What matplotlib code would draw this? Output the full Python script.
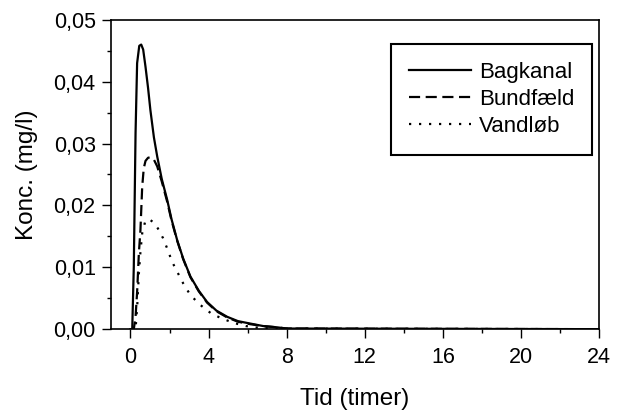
import matplotlib
matplotlib.use("Agg")
import matplotlib.pyplot as plt
from matplotlib.ticker import MultipleLocator, FuncFormatter

plt.rcParams['font.family'] = ['Liberation Sans', 'DejaVu Sans']

# values (tid in timer, konc. in mg/l)
t_bag = [0.0, 0.09, 0.17, 0.26, 0.34, 0.45, 0.55, 0.65, 0.77, 0.9, 1.02, 1.2, 1.37, 1.6,
         1.88, 2.1, 2.39, 2.7, 3.07, 3.5, 3.92, 4.4, 4.95, 5.5, 6.14, 6.8, 7.5, 8.0, 24.0]
c_bag = [0.0, 0.0, 0.0101, 0.0317, 0.043, 0.0458, 0.046, 0.0452, 0.0424, 0.039, 0.0354, 0.031,
         0.0279, 0.0243, 0.0209, 0.0178, 0.0144, 0.0114, 0.0085, 0.0062, 0.0044, 0.003, 0.002,
         0.0013, 0.0009, 0.0005, 0.0003, 0.0001, 0.0]

t_bund = [0.0, 0.17, 0.26, 0.34, 0.43, 0.51, 0.6, 0.68, 0.77, 0.9, 1.02, 1.2, 1.37, 1.6, 1.88,
          2.1, 2.39, 2.7, 3.07, 3.5, 3.92, 4.4, 4.95, 5.5, 6.14, 6.8, 7.5, 8.0, 24.0]
c_bund = [0.0, 0.0, 0.002, 0.006, 0.0123, 0.016, 0.023, 0.026, 0.0272, 0.0277, 0.0278, 0.0274,
          0.0263, 0.0239, 0.0206, 0.0176, 0.0143, 0.0113, 0.0084, 0.0061, 0.0043, 0.0029, 0.0019,
          0.0012, 0.0008, 0.0005, 0.0003, 0.0001, 0.0]

t_vand = [0.0, 0.26, 0.35, 0.43, 0.51, 0.6, 0.77, 0.99, 1.2, 1.4, 1.67, 1.91, 2.13, 2.39, 2.7,
          3.07, 3.58, 4.15, 4.7, 5.3, 5.9, 6.6, 7.5, 24.0]
c_vand = [0.0, 0.0, 0.004, 0.009, 0.0125, 0.0155, 0.0176, 0.0177, 0.0172, 0.0163, 0.0147, 0.0128,
          0.0109, 0.0093, 0.0074, 0.0055, 0.0039, 0.0025, 0.0017, 0.001, 0.0005, 0.0002, 0.0001, 0.0]

fig = plt.figure(figsize=(6.34, 4.13), dpi=100)
ax = fig.add_axes([0.175, 0.203, 0.77, 0.749])

ax.plot(t_bag, c_bag, color='black', lw=1.6, label='Bagkanal')
ax.plot(t_bund, c_bund, color='black', lw=1.6, linestyle=(0, (5, 2.5)), label='Bundfæld')
ax.plot(t_vand, c_vand, color='black', lw=1.6, linestyle=(0, (1, 3.5)), label='Vandløb')

ax.set_xlim(-1, 24)
ax.set_ylim(0, 0.05)
ax.xaxis.set_major_locator(MultipleLocator(4))
ax.xaxis.set_minor_locator(MultipleLocator(2))
ax.yaxis.set_major_locator(MultipleLocator(0.01))
ax.yaxis.set_minor_locator(MultipleLocator(0.005))
ax.yaxis.set_major_formatter(FuncFormatter(lambda v, p: f"{v:.2f}".replace('.', ',')))
ax.tick_params(which='both', direction='out', labelsize=15.5, width=1.0)
ax.tick_params(which='major', length=6.5)
ax.tick_params(which='minor', length=3)
ax.tick_params(axis='x', which='major', pad=6)
ax.tick_params(axis='y', which='major', pad=4.5)
for s in ax.spines.values():
    s.set_linewidth(1.2)

ax.set_xlabel('Tid (timer)', fontsize=17.5, labelpad=15)
ax.set_ylabel('Konc. (mg/l)', fontsize=17.5, labelpad=11)

leg = ax.legend(loc='upper right', bbox_to_anchor=(0.986, 0.922), borderaxespad=0,
                fontsize=16, handlelength=2.8, handletextpad=0.35, labelspacing=0.28,
                fancybox=False, framealpha=1, edgecolor='black', borderpad=0.8)
leg.get_frame().set_linewidth(1.5)

fig.savefig('out.png', dpi=100)
